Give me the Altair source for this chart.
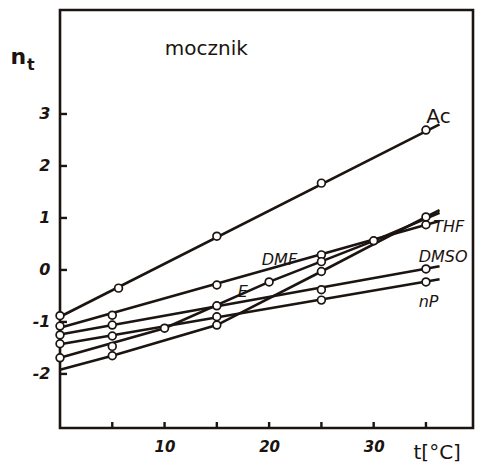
import altair as alt
import pandas as pd

# ---------------- data ----------------
# measured points: t [°C] and n_t
ac_t = [0, 5.6, 15, 25, 35]
ac_n = [-0.88, -0.35, 0.65, 1.67, 2.69]
dmf_t = [0, 5, 15, 25, 35]
dmf_n = [-1.08, -0.87, -0.29, 0.29, 0.87]
thf_t = [5, 15, 25, 35]
thf_n = [-1.65, -1.06, -0.03, 1.02]
e_t = [0, 5, 10, 20, 25, 30]
e_n = [-1.69, -1.47, -1.12, -0.23, 0.16, 0.56]
dmso_t = [0, 5, 15, 25, 35]
dmso_n = [-1.25, -1.06, -0.69, -0.38, 0.02]
np_t = [0, 5, 15, 25, 35]
np_n = [-1.42, -1.27, -0.90, -0.58, -0.23]

# drawn lines (vertices of each curve)
ac_line_t = [0, 36.3]
ac_line_n = [-0.90, 2.80]
dmf_line_t = [0, 36.3]
dmf_line_n = [-1.11, 0.94]
thf_line_t = [0, 5, 15, 25, 35, 36.3]
thf_line_n = [-1.92, -1.65, -1.06, -0.03, 1.02, 1.15]
e_line_t = [0, 10, 20, 30, 36.3]
e_line_n = [-1.69, -1.12, -0.23, 0.56, 1.10]
dmso_line_t = [0, 36.3]
dmso_line_n = [-1.24, 0.07]
np_line_t = [0, 36.3]
np_line_n = [-1.43, -0.18]

# labels
lab_it_text = ["THF", "DMSO", "nP", "DMF", "E"]
lab_it_t = [35.7, 34.3, 34.3, 19.3, 17.0]
lab_it_n = [0.73, 0.15, -0.71, 0.10, -0.52]
lab_nm_text = ["Ac", "mocznik"]
lab_nm_t = [36.2, 14.0]
lab_nm_n = [2.83, 4.13]

x_ticks = [5, 10, 15, 20, 25, 30, 35]
x_labels = [10, 20, 30]
y_ticks = [-2, -1, 0, 1, 2, 3]

# ---------------- tables ----------------
pts = []
for s, ts, ns in [("Ac", ac_t, ac_n), ("DMF", dmf_t, dmf_n), ("THF", thf_t, thf_n),
                  ("E", e_t, e_n), ("DMSO", dmso_t, dmso_n), ("nP", np_t, np_n)]:
    for t, n in zip(ts, ns):
        pts.append({"s": s, "x": t, "y": n})
pts_df = pd.DataFrame(pts)

lines = []
for s, ts, ns in [("Ac", ac_line_t, ac_line_n), ("DMF", dmf_line_t, dmf_line_n),
                  ("THF", thf_line_t, thf_line_n), ("E", e_line_t, e_line_n),
                  ("DMSO", dmso_line_t, dmso_line_n), ("nP", np_line_t, np_line_n)]:
    for i, (t, n) in enumerate(zip(ts, ns)):
        lines.append({"s": s, "x": t, "y": n, "o": i})
lines_df = pd.DataFrame(lines)

lab_it_df = pd.DataFrame({"txt": lab_it_text, "x": lab_it_t, "y": lab_it_n})
lab_nm_df = pd.DataFrame({"txt": lab_nm_text, "x": lab_nm_t, "y": lab_nm_n})
xt_df = pd.DataFrame({"x": x_ticks})
yt_df = pd.DataFrame({"y": y_ticks})

INK = "#1b1410"
W, H = 413, 418

x_enc = alt.X("x:Q", scale=alt.Scale(domain=[0, 39.5], nice=False, zero=False),
              axis=alt.Axis(values=x_labels, tickSize=0, domain=False, grid=False,
                            labelFont="DejaVu Sans", labelFontSize=15,
                            labelFontStyle="italic", labelFontWeight="bold",
                            labelColor=INK, labelPadding=11,
                            title="t[°C]", titleFont="DejaVu Sans", titleFontSize=20,
                            titleFontWeight="normal", titleColor=INK,
                            titleX=353, titleY=30, titleAlign="left",
                            titleBaseline="alphabetic"))
y_enc = alt.Y("y:Q", scale=alt.Scale(domain=[-3.04, 5.0], nice=False, zero=False),
              axis=alt.Axis(values=y_ticks, tickSize=0, domain=False, grid=False,
                            labelExpr="datum.value < 0 ? '-' + abs(datum.value) : datum.label",
                            labelFont="DejaVu Sans", labelFontSize=16,
                            labelFontStyle="italic", labelFontWeight="bold",
                            labelColor=INK, labelPadding=10,
                            title="n", titleFont="DejaVu Sans", titleFontSize=22,
                            titleFontWeight="bold", titleColor=INK, titleAngle=0,
                            titleX=-50, titleY=53, titleAlign="left",
                            titleBaseline="alphabetic"))

line_layer = alt.Chart(lines_df).mark_line(color=INK, strokeWidth=2.6).encode(
    x=x_enc, y=y_enc, detail="s:N", order="o:Q")

pt_layer = alt.Chart(pts_df).mark_point(shape="circle", filled=True, fill="white",
                                        stroke=INK, strokeWidth=1.7, size=60,
                                        opacity=1).encode(x=x_enc, y=y_enc)

xt_layer = alt.Chart(xt_df).mark_rule(color=INK, strokeWidth=2.4).encode(
    x=x_enc, y=alt.value(H), y2=alt.value(H - 6))
yt_layer = alt.Chart(yt_df).mark_rule(color=INK, strokeWidth=2.4).encode(
    y=y_enc, x=alt.value(0), x2=alt.value(7))

lab_it = alt.Chart(lab_it_df).mark_text(font="DejaVu Sans", fontSize=16,
                                        fontStyle="italic", align="left",
                                        baseline="alphabetic", color=INK).encode(
    x=x_enc, y=y_enc, text="txt:N")
lab_nm = alt.Chart(lab_nm_df).mark_text(font="DejaVu Sans", fontSize=20,
                                        align="center", baseline="alphabetic",
                                        color=INK).encode(
    x=x_enc, y=y_enc, text="txt:N")

sub_t = alt.Chart(pd.DataFrame({"txt": ["t"]})).mark_text(
    font="DejaVu Sans", fontSize=16, fontWeight="bold", align="left",
    baseline="alphabetic", color=INK).encode(
    x=alt.value(-33), y=alt.value(60), text="txt:N")

chart = alt.layer(line_layer, pt_layer, xt_layer, yt_layer, lab_it, lab_nm, sub_t).properties(
    width=W, height=H, autosize="none",
    padding={"left": 60, "top": 10, "right": 4, "bottom": 37},
    background="white",
).configure_view(stroke=INK, strokeWidth=2.6)

chart.save("out.html", embed_options={"renderer": "svg", "actions": False})
